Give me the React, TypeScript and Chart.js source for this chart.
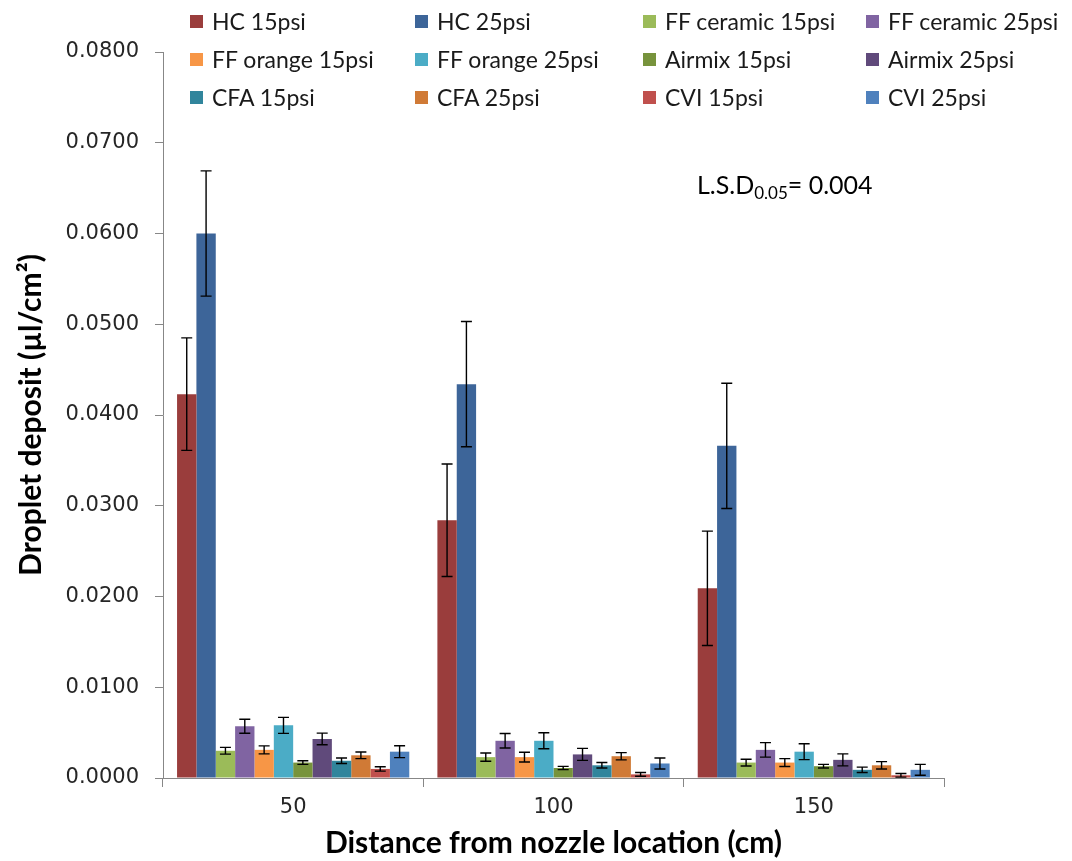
import React, { useEffect, useRef } from "react";
import { Chart, registerables } from "chart.js";

Chart.register(...registerables);

// ---- data ----
const categories = ["50", "100", "150"];

const seriesNames = [
  "HC 15psi", "HC 25psi", "FF ceramic 15psi", "FF ceramic 25psi",
  "FF orange 15psi", "FF orange 25psi", "Airmix 15psi", "Airmix 25psi",
  "CFA 15psi", "CFA 25psi", "CVI 15psi", "CVI 25psi",
];

const seriesColors = [
  "#9A3D3C", "#3D6599", "#9BBB59", "#8064A2",
  "#F79646", "#4BACC6", "#77933C", "#604A7B",
  "#31859C", "#D07A36", "#C0504D", "#4F81BD",
];

const hc15 = [0.0423, 0.0284, 0.0209];
const hc25 = [0.06, 0.0434, 0.0366];
const ffCeramic15 = [0.003, 0.0023, 0.0017];
const ffCeramic25 = [0.0057, 0.0041, 0.0031];
const ffOrange15 = [0.0031, 0.0023, 0.0017];
const ffOrange25 = [0.0058, 0.0041, 0.0029];
const airmix15 = [0.0017, 0.0011, 0.0013];
const airmix25 = [0.0043, 0.0026, 0.002];
const cfa15 = [0.0019, 0.0014, 0.0009];
const cfa25 = [0.0025, 0.0024, 0.0014];
const cvi15 = [0.001, 0.0004, 0.0003];
const cvi25 = [0.0029, 0.0016, 0.0009];

const hc15Err = [0.0062, 0.0062, 0.0063];
const hc25Err = [0.0069, 0.0069, 0.0069];
const ffCeramic15Err = [0.00037, 0.00046, 0.00037];
const ffCeramic25Err = [0.00077, 0.0008, 0.0008];
const ffOrange15Err = [0.00044, 0.00053, 0.00044];
const ffOrange25Err = [0.00088, 0.00088, 0.00088];
const airmix15Err = [0.0002, 0.00018, 0.0002];
const airmix25Err = [0.00064, 0.00066, 0.00066];
const cfa15Err = [0.0003, 0.0003, 0.0003];
const cfa25Err = [0.00037, 0.0004, 0.0004];
const cvi15Err = [0.00024, 0.0002, 0.0002];
const cvi25Err = [0.00066, 0.0006, 0.0006];

const seriesValues = [
  hc15, hc25, ffCeramic15, ffCeramic25, ffOrange15, ffOrange25,
  airmix15, airmix25, cfa15, cfa25, cvi15, cvi25,
];
const seriesErrors = [
  hc15Err, hc25Err, ffCeramic15Err, ffCeramic25Err, ffOrange15Err, ffOrange25Err,
  airmix15Err, airmix25Err, cfa15Err, cfa25Err, cvi15Err, cvi25Err,
];

const yMin = 0;
const yMax = 0.08;
const yStep = 0.01;

// ---- layout constants ----
const W = 1072;
const H = 861;
const legendCols = [190, 415, 643, 866];
const legendRows = [21, 59, 97];

const errorBarPlugin = {
  id: "errorBars",
  afterDatasetsDraw(chart: any) {
    const ctx = chart.ctx;
    const yScale = chart.scales.y;
    chart.data.datasets.forEach((ds: any, i: number) => {
      const meta = chart.getDatasetMeta(i);
      meta.data.forEach((bar: any, j: number) => {
        const v = ds.data[j];
        const e = ds.errors[j];
        const yt = yScale.getPixelForValue(v + e);
        const yb = yScale.getPixelForValue(v - e);
        const cap = 5.5;
        ctx.save();
        ctx.strokeStyle = "#000";
        ctx.lineWidth = 1.4;
        ctx.beginPath();
        ctx.moveTo(bar.x, yt);
        ctx.lineTo(bar.x, yb);
        ctx.moveTo(bar.x - cap, yt);
        ctx.lineTo(bar.x + cap, yt);
        ctx.moveTo(bar.x - cap, yb);
        ctx.lineTo(bar.x + cap, yb);
        ctx.stroke();
        ctx.restore();
      });
    });
  },
};

export default function App() {
  const canvasRef = useRef<HTMLCanvasElement | null>(null);

  useEffect(() => {
    if (!canvasRef.current) return;
    const axisColor = "#878787";
    const chart = new Chart(canvasRef.current, {
      type: "bar",
      data: {
        labels: categories,
        datasets: seriesNames.map((name, i) => ({
          label: name,
          data: seriesValues[i],
          errors: seriesErrors[i],
          backgroundColor: seriesColors[i],
          borderWidth: 0,
          categoryPercentage: 0.892,
          barPercentage: 1.0,
        })) as any,
      },
      options: {
        responsive: false,
        animation: false,
        devicePixelRatio: 1,
        layout: { padding: { top: 52, right: 128, bottom: 0, left: 0 } },
        plugins: {
          legend: { display: false },
          tooltip: { enabled: false },
          title: { display: false },
        },
        scales: {
          x: {
            type: "category",
            afterFit: (scale: any) => {
              scale.height = 83;
            },
            grid: {
              display: true,
              offset: true,
              drawOnChartArea: false,
              drawTicks: true,
              tickLength: 9,
              color: axisColor,
            },
            border: { display: true, color: axisColor, width: 1 },
            ticks: {
              color: "#262626",
              font: { family: "DejaVu Sans", size: 21 },
              padding: 8,
            },
            title: {
              display: true,
              text: "Distance from nozzle location (cm)",
              color: "#000",
              font: { family: "Lato", size: 30, weight: "bold" },
              padding: { top: 0, bottom: 0 },
            },
          },
          y: {
            min: yMin,
            max: yMax,
            afterFit: (scale: any) => {
              scale.width = 163;
            },
            ticks: {
              stepSize: yStep,
              color: "#262626",
              font: { family: "DejaVu Sans", size: 21 },
              padding: 16,
              callback: (v: any) => Number(v).toFixed(4),
            },
            grid: {
              display: true,
              drawOnChartArea: false,
              drawTicks: true,
              tickLength: 8,
              color: axisColor,
            },
            border: { display: true, color: axisColor, width: 1 },
            title: {
              display: true,
              text: "Droplet deposit (µl/cm²)",
              color: "#000",
              font: { family: "Lato", size: 30, weight: "bold" },
              padding: { top: 13, bottom: 0 },
            },
          },
        },
      },
      plugins: [errorBarPlugin],
    } as any);
    return () => chart.destroy();
  }, []);

  return (
    <div
      style={{
        position: "fixed",
        left: 0,
        top: 0,
        width: W,
        height: H,
        background: "#fff",
        overflow: "hidden",
      }}
    >
      <canvas ref={canvasRef} width={W} height={H} style={{ width: W, height: H, display: "block" }} />
      {seriesNames.map((name, i) => {
        const c = i % 4;
        const r = Math.floor(i / 4);
        return (
          <div
            key={name}
            style={{
              position: "absolute",
              left: legendCols[c],
              top: legendRows[r] - 14,
              height: 28,
              display: "flex",
              alignItems: "center",
              fontFamily: "Lato",
              fontSize: 23,
              color: "#1a1a1a",
              whiteSpace: "nowrap",
            }}
          >
            <span
              style={{
                display: "inline-block",
                width: 13,
                height: 13,
                background: seriesColors[i],
                marginRight: 9,
              }}
            />
            {name}
          </div>
        );
      })}
      <div
        style={{
          position: "absolute",
          left: 697,
          top: 168,
          fontFamily: "Lato",
          fontSize: 25,
          color: "#000",
          whiteSpace: "nowrap",
          lineHeight: "32px",
        }}
      >
        L.S.D<sub style={{ fontSize: 17, verticalAlign: "-5px" }}>0.05</sub>= 0.004
      </div>
    </div>
  );
}
